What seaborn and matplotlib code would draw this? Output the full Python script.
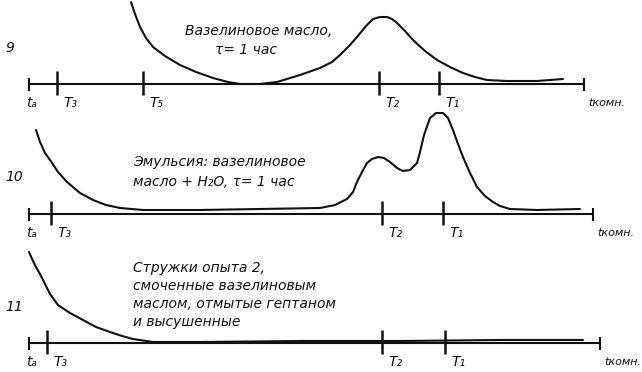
import matplotlib
matplotlib.use("Agg")
import matplotlib.pyplot as plt
import seaborn as sns
import pandas as pd

sns.set_theme(style="white")
plt.rcParams['font.family'] = ['DejaVu Sans']

# --- data (in drawing units: x to the right, y downwards) ---
# panel 9
c9_x = [131, 135, 140, 146, 153, 165, 180, 196, 213, 228, 240, 260, 277, 300, 320, 332, 340, 350, 357, 366, 373, 380, 387, 392, 397, 405, 413, 425, 437, 450, 463, 475, 487, 507, 537, 563]
c9_y = [2, 14, 27, 38, 47, 56, 65, 72, 78, 82, 84, 84, 82, 75, 68, 62, 55, 45, 37, 26, 19, 17, 17, 19, 23, 31, 40, 51, 60, 67, 73, 77, 80, 81, 81, 79]
# panel 10
c10_x = [36, 40, 45, 50, 58, 67, 80, 93, 106, 120, 143, 200, 260, 320, 335, 347, 353, 357, 362, 367, 372, 378, 384, 390, 397, 403, 410, 417, 420, 424, 430, 436, 443, 448, 453, 458, 463, 470, 477, 485, 493, 500, 510, 537, 580]
c10_y = [130, 142, 153, 160, 172, 182, 193, 200, 205, 208, 210, 210, 209, 208, 205, 199, 192, 182, 172, 163, 159, 157, 158, 162, 168, 171, 170, 163, 152, 135, 118, 113, 113, 118, 130, 144, 157, 173, 187, 196, 202, 206, 209, 210, 209]
# panel 11
c11_x = [29, 33, 36, 40, 43, 50, 58, 70, 83, 96, 110, 122, 133, 153, 200, 300, 400, 500, 583]
c11_y = [252, 261, 267, 274, 280, 294, 305, 313, 320, 327, 332, 336, 339, 342, 342, 341, 341, 340, 340]

baselines = [84, 214, 343]
axis_start = [29, 29, 29]
axis_end = [584, 593, 600]
tick_T3 = [57, 51, 47]
tick_T5 = [143, None, None]
tick_T2 = [379, 382, 382]
tick_T1 = [439, 443, 445]
panel_numbers = ["9", "10", "11"]
panel_num_pos = [(5, 48), (5, 177), (5, 307)]

texts = [
    ["Вазелиновое масло,", "τ= 1 час"],
    ["Эмульсия: вазелиновое", "масло + H₂O, τ= 1 час"],
    ["Стружки опыта 2,", "смоченные вазелиновым", "маслом, отмытые гептаном", "и высушенные"],
]

fig = plt.figure(figsize=(6.42, 3.72), dpi=100)
ax = fig.add_axes([0, 0, 1, 1])
ax.set_xlim(0, 642)
ax.set_ylim(372, 0)
ax.axis("off")

col = "#111111"
df = pd.concat([
    pd.DataFrame({"x": c9_x, "y": c9_y, "s": "9"}),
    pd.DataFrame({"x": c10_x, "y": c10_y, "s": "10"}),
    pd.DataFrame({"x": c11_x, "y": c11_y, "s": "11"}),
])
sns.lineplot(data=df, x="x", y="y", units="s", estimator=None, sort=False,
             color=col, lw=1.5, ax=ax, legend=False,
             solid_joinstyle="round", solid_capstyle="round")

fs = 10
tstyle = dict(fontsize=fs, style="italic", color=col, fontweight="light")
for i in range(3):
    b = baselines[i]
    ax.hlines(b, axis_start[i], axis_end[i], color=col, lw=1.5)
    ax.vlines([axis_start[i], axis_end[i]], b - 6, b + 7, color=col, lw=1.5)
    Ts = [("T₃", tick_T3[i]), ("T₅", tick_T5[i]), ("T₂", tick_T2[i]), ("T₁", tick_T1[i])]
    for lab, xv in Ts:
        if xv is None:
            continue
        ax.vlines(xv, b - 13, b + 11, color=col, lw=1.8)
        ax.text(xv + 6, b + 19, lab, ha="left", va="center", **tstyle)
    ax.text(axis_start[i] - 3, b + 19, "tₐ", ha="left", va="center", **tstyle)
    ax.text(axis_end[i] + 4, b + 19, "tкомн.", ha="left", va="center",
            fontsize=8, style="italic", color=col)
    ax.text(panel_num_pos[i][0], panel_num_pos[i][1], panel_numbers[i],
            ha="left", va="center", **tstyle)

ax.text(185, 31, texts[0][0], ha="left", va="center", **tstyle)
ax.text(215, 50, texts[0][1], ha="left", va="center", **tstyle)
for j, s in enumerate(texts[1]):
    ax.text(133, 162 + 20 * j, s, ha="left", va="center", **tstyle)
for j, s in enumerate(texts[2]):
    ax.text(133, 268 + 18 * j, s, ha="left", va="center", **tstyle)

fig.savefig("out.png", dpi=100)
